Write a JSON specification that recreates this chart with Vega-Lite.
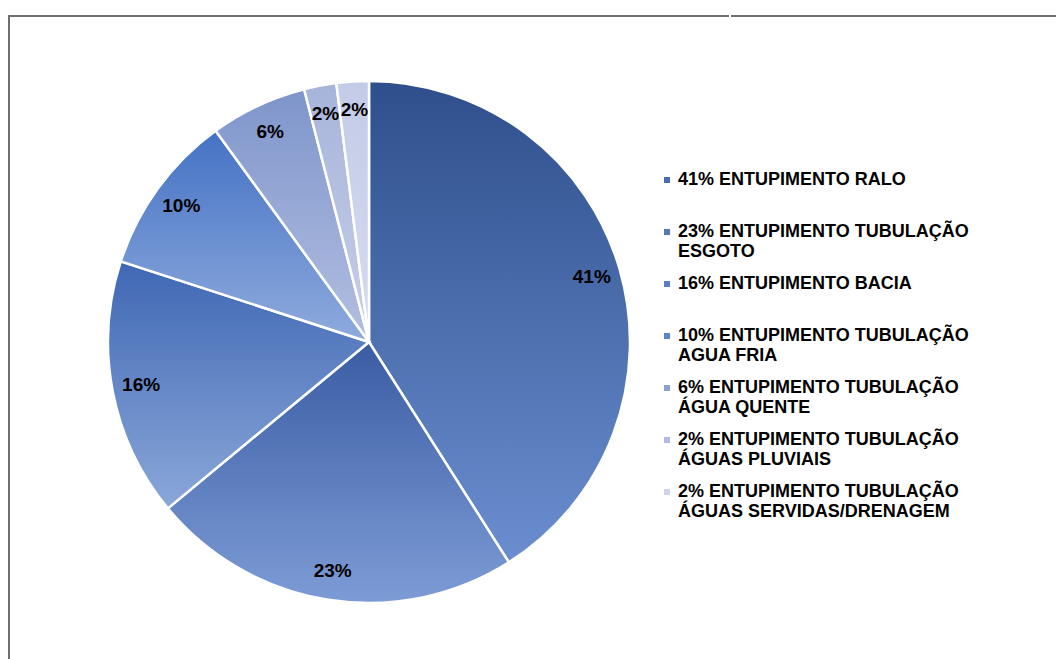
{
  "$schema": "https://vega.github.io/schema/vega-lite/v6.json",
  "padding": {"left": 8, "top": 15, "right": 0, "bottom": 0},
  "background": "white",
  "spacing": 0,
  "config": {"view": {"stroke": null}, "font": "Liberation Sans"},
  "hconcat": [
    {
      "width": 720,
      "height": 652,
      "view": {"stroke": "#6f6f6f", "strokeWidth": 2, "strokeDash": [720, 1372, 652, 10]},
      "data": {
        "values": [
          {"ordem": 1, "categoria": "41% ENTUPIMENTO RALO", "valor": 41, "rotulo": "41%"},
          {"ordem": 2, "categoria": "23% ENTUPIMENTO TUBULAÇÃO\nESGOTO", "valor": 23, "rotulo": "23%"},
          {"ordem": 3, "categoria": "16% ENTUPIMENTO BACIA", "valor": 16, "rotulo": "16%"},
          {"ordem": 4, "categoria": "10% ENTUPIMENTO TUBULAÇÃO\nAGUA FRIA", "valor": 10, "rotulo": "10%"},
          {"ordem": 5, "categoria": "6% ENTUPIMENTO TUBULAÇÃO\nÁGUA QUENTE", "valor": 6, "rotulo": "6%"},
          {"ordem": 6, "categoria": "2% ENTUPIMENTO TUBULAÇÃO\nÁGUAS PLUVIAIS", "valor": 2, "rotulo": "2%"},
          {"ordem": 7, "categoria": "2% ENTUPIMENTO TUBULAÇÃO\nÁGUAS SERVIDAS/DRENAGEM", "valor": 2, "rotulo": "2%"}
        ]
      },
      "layer": [
        {
          "mark": {"type": "arc", "outerRadius": 261, "stroke": "white", "strokeWidth": 2.5},
          "encoding": {
            "theta": {"field": "valor", "type": "quantitative", "stack": true},
            "order": {"field": "ordem", "type": "quantitative"},
            "fill": {
              "condition": [
                {"test": "datum.ordem === 1", "value": {"gradient": "linear", "x1": 0, "y1": 0, "x2": 0, "y2": 1, "stops": [{"offset": 0, "color": "#2e4f8b"}, {"offset": 1, "color": "#6a8ed0"}]}},
                {"test": "datum.ordem === 2", "value": {"gradient": "linear", "x1": 0, "y1": 0, "x2": 0, "y2": 1, "stops": [{"offset": 0, "color": "#3a5ca3"}, {"offset": 1, "color": "#7d9cd6"}]}},
                {"test": "datum.ordem === 3", "value": {"gradient": "linear", "x1": 0, "y1": 0, "x2": 0, "y2": 1, "stops": [{"offset": 0, "color": "#3f67b3"}, {"offset": 1, "color": "#8aa7d9"}]}},
                {"test": "datum.ordem === 4", "value": {"gradient": "linear", "x1": 0, "y1": 0, "x2": 0, "y2": 1, "stops": [{"offset": 0, "color": "#4472c4"}, {"offset": 1, "color": "#8fabdd"}]}},
                {"test": "datum.ordem === 5", "value": {"gradient": "linear", "x1": 0, "y1": 0, "x2": 0, "y2": 1, "stops": [{"offset": 0, "color": "#7e95cb"}, {"offset": 1, "color": "#b3bfe1"}]}},
                {"test": "datum.ordem === 6", "value": {"gradient": "linear", "x1": 0, "y1": 0, "x2": 0, "y2": 1, "stops": [{"offset": 0, "color": "#a7b4da"}, {"offset": 1, "color": "#c7cfe9"}]}}
              ],
              "value": {"gradient": "linear", "x1": 0, "y1": 0, "x2": 0, "y2": 1, "stops": [{"offset": 0, "color": "#c3cbe7"}, {"offset": 1, "color": "#d6dcf0"}]}
            }
          }
        },
        {
          "mark": {"type": "arc", "outerRadius": 0, "strokeWidth": 0},
          "encoding": {
            "theta": {"field": "valor", "type": "quantitative", "stack": true},
            "order": {"field": "ordem", "type": "quantitative"},
            "fill": {
              "field": "categoria",
              "type": "nominal",
              "scale": {
                "domain": [
                  "41% ENTUPIMENTO RALO",
                  "23% ENTUPIMENTO TUBULAÇÃO\nESGOTO",
                  "16% ENTUPIMENTO BACIA",
                  "10% ENTUPIMENTO TUBULAÇÃO\nAGUA FRIA",
                  "6% ENTUPIMENTO TUBULAÇÃO\nÁGUA QUENTE",
                  "2% ENTUPIMENTO TUBULAÇÃO\nÁGUAS PLUVIAIS",
                  "2% ENTUPIMENTO TUBULAÇÃO\nÁGUAS SERVIDAS/DRENAGEM"
                ],
                "range": ["#4a6db0", "#5578b8", "#5a7fc0", "#5b84cc", "#8a9fd4", "#b0bbe0", "#ccd3ea"]
              },
              "legend": {
                "title": null,
                "orient": "none",
                "legendX": 649,
                "legendY": 155,
                "padding": 0,
                "symbolType": "square",
                "symbolSize": 36,
                "symbolStrokeWidth": 0,
                "labelOffset": 2,
                "labelFont": "Liberation Sans",
                "labelFontWeight": "bold",
                "labelFontSize": 18,
                "labelColor": "black",
                "labelLimit": 0,
                "rowPadding": 14,
                "labelExpr": "indexof(datum.label, '\\n') >= 0 ? split(datum.label, '\\n') : [datum.label, ' ']"
              }
            }
          }
        },
        {
          "mark": {"type": "text", "radius": 232, "font": "Liberation Sans", "fontWeight": "bold", "fontSize": 19, "color": "black"},
          "encoding": {
            "theta": {"field": "valor", "type": "quantitative", "stack": true},
            "order": {"field": "ordem", "type": "quantitative"},
            "text": {"field": "rotulo", "type": "nominal"}
          }
        }
      ]
    },
    {
      "width": 327,
      "height": 652,
      "view": {"stroke": "#6f6f6f", "strokeWidth": 2, "strokeDash": [327, 3000]},
      "data": {"values": []},
      "mark": "text",
      "encoding": {}
    }
  ]
}
